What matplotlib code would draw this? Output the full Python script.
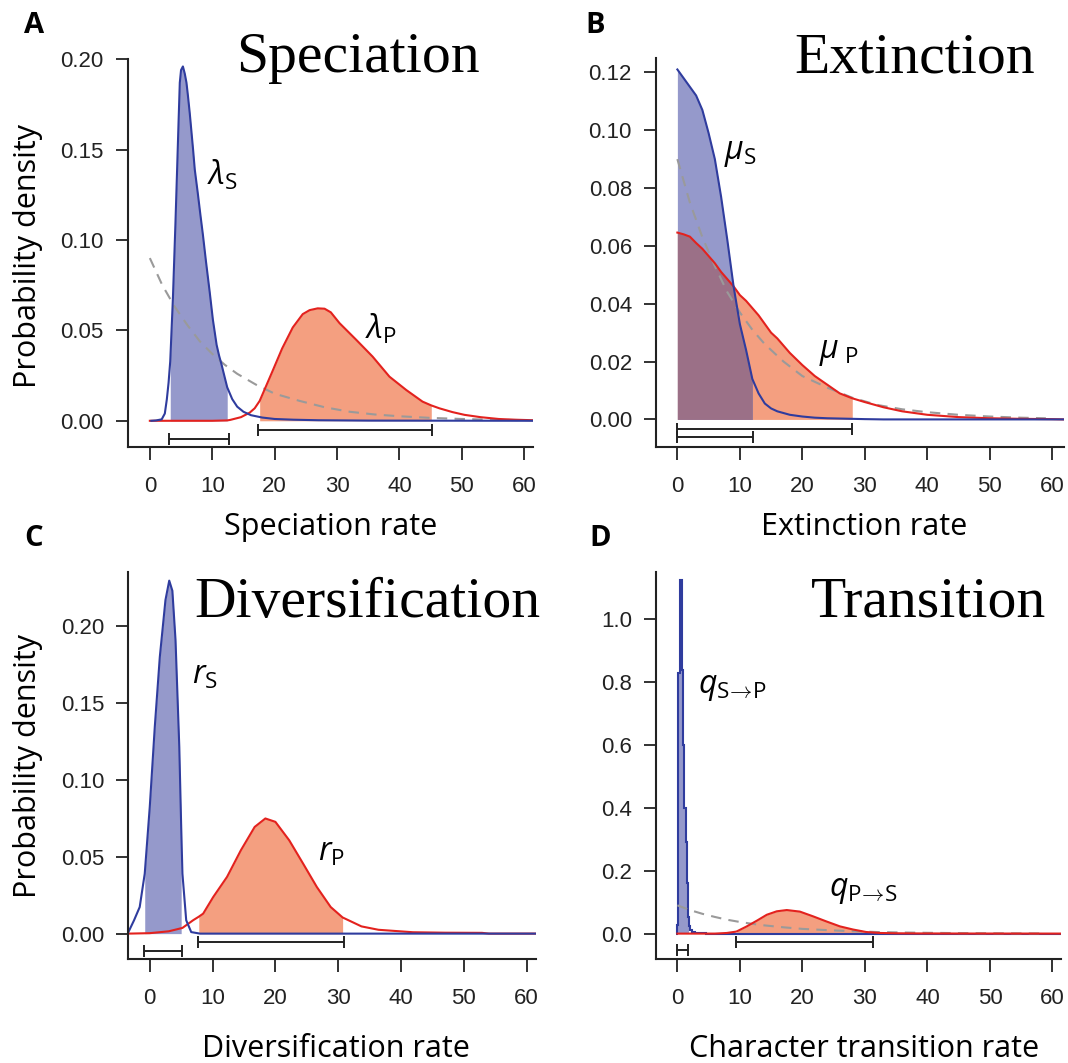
import numpy as np
import matplotlib
matplotlib.use('Agg')
import matplotlib.pyplot as plt

W, H = 1068, 1063

# ---- A: speciation ----
lam_s_x = [0.24, 1.0, 1.9, 2.4, 2.72, 3.0, 3.27, 3.7, 4.1, 4.37, 4.6, 4.8, 5.0, 5.3, 5.6,
           5.87, 6.1, 6.4, 6.93, 7.2, 7.68, 8.1, 8.5, 9.0, 9.6, 10.1, 10.7, 11.1, 11.5,
           12.0, 12.4, 13.2, 14.0, 15.0, 16.2, 18.0, 20.0, 23.0, 27.0, 35.0, 61.5]
lam_s = [0.0, 0.0002, 0.0008, 0.004, 0.0118, 0.021, 0.033, 0.068, 0.109, 0.139, 0.165,
         0.187, 0.194, 0.196, 0.192, 0.187, 0.180, 0.170, 0.150, 0.139, 0.126, 0.114,
         0.103, 0.088, 0.071, 0.056, 0.042, 0.036, 0.031, 0.024, 0.0185, 0.012, 0.0078,
         0.005, 0.0031, 0.0018, 0.001, 0.0006, 0.0003, 0.0001, 0.0]
lam_p_x = [0, 10, 12.4, 12.9, 14.6, 16.0, 16.8, 17.6, 19.6, 21.2, 22.9, 24.5, 25.6, 26.9,
           28.0, 29.0, 30.4, 33.1, 35.7, 38.4, 41.1, 43.7, 45.1, 46.4, 48.5, 50.4, 53.0,
           55.9, 58.5, 61.5]
lam_p = [0, 0, 0.0002, 0.0005, 0.002, 0.0045, 0.0069, 0.011, 0.027, 0.040, 0.0516, 0.059,
         0.0612, 0.0622, 0.062, 0.060, 0.054, 0.0447, 0.0355, 0.0244, 0.017, 0.0106,
         0.0085, 0.0069, 0.0048, 0.0033, 0.002, 0.001, 0.0006, 0.0003]
lam_hpd_s = (3.04, 12.64)
lam_hpd_p = (17.3, 45.2)
lam_fill_s = (3.27, 12.4)
lam_fill_p = (17.6, 45.1)

# ---- B: extinction (shared grid) ----
ext_x = [0, 1, 2, 3, 4, 5, 6, 7, 8, 9, 10, 11, 12, 13, 14, 15, 16, 18, 20, 22, 24, 26,
         28, 30, 33, 36, 40, 45, 50, 55, 60, 62]
mu_s = [0.121, 0.118, 0.115, 0.112, 0.107, 0.099, 0.090, 0.077, 0.062, 0.046, 0.033,
        0.024, 0.014, 0.009, 0.0055, 0.0038, 0.0028, 0.0016, 0.001, 0.0006, 0.0004,
        0.0003, 0.0002, 0.0001, 0, 0, 0, 0, 0, 0, 0, 0]
mu_p = [0.0646, 0.064, 0.0632, 0.061, 0.059, 0.0565, 0.054, 0.051, 0.0485, 0.046, 0.043,
        0.041, 0.0385, 0.036, 0.033, 0.030, 0.028, 0.023, 0.0188, 0.015, 0.012, 0.009,
        0.0073, 0.006, 0.0042, 0.0028, 0.0016, 0.0008, 0.0004, 0.0002, 0.0001, 0.0]
mu_hpd_s = (0, 12.06)
mu_hpd_p = (0, 28.0)

# ---- C: diversification ----
r_s_x = [-3.4, -2.5, -1.6, -0.8, 0, 0.8, 1.6, 2.5, 3.1, 3.6, 4.1, 4.7, 5.0, 5.2, 5.8, 6.6,
         8, 61.5]
r_s = [0.001, 0.0087, 0.0173, 0.039, 0.0824, 0.1345, 0.180, 0.217, 0.2296, 0.223, 0.191,
       0.1215, 0.07, 0.039, 0.0087, 0.001, 0, 0]
r_p_x = [-3.4, 0, 3.0, 5.2, 6.9, 7.8, 8.5, 10.1, 12.3, 14.5, 16.7, 18.4, 20.0, 22.2, 24.4,
         26.6, 28.8, 30.7, 33.7, 36.4, 41.9, 47, 52.9, 54, 61.5]
r_p = [0, 0.0003, 0.0015, 0.0037, 0.0087, 0.011, 0.013, 0.0238, 0.0369, 0.0542, 0.0694,
       0.0749, 0.0727, 0.0607, 0.0456, 0.0303, 0.0173, 0.0105, 0.0047, 0.0025, 0.0009,
       0.0006, 0.0005, 0, 0]
r_hpd_s = (-0.99, 5.2)
r_hpd_p = (7.67, 30.96)
r_fill_s = (-0.8, 5.0)
r_fill_p = (7.8, 30.7)

# ---- D: transition ----
q_sp_edges = [-0.25, -0.1, 0.05, 0.15, 0.42, 0.79, 0.95, 1.1, 1.32, 1.48, 1.64, 1.8, 2.0,
              2.3, 2.8, 3.5, 4.5, 61.5]
q_sp = [0.0, 0.027, 0.29, 0.83, 1.125, 0.84, 0.60, 0.40, 0.29, 0.16, 0.054, 0.025, 0.012,
        0.005, 0.002, 0.0005, 0.0]
q_ps_x = [0, 6, 7.9, 9.3, 9.5, 11.1, 12.7, 14.3, 15.9, 17.5, 19.6, 21.7, 23.8, 26.0, 28.1,
          30.2, 31.3, 32.4, 35, 38.8, 45, 61.5]
q_ps = [0, 0, 0.002, 0.006, 0.007, 0.023, 0.041, 0.06, 0.071, 0.075, 0.07, 0.055, 0.039,
        0.023, 0.013, 0.0051, 0.0035, 0.002, 0.001, 0.0005, 0.0002, 0]
q_hpd_s = (0, 1.71)
q_hpd_p = (9.37, 31.3)

# exponential prior (dashed)
prior_x = [0, 2, 4, 6, 8, 10, 12, 14, 17, 20, 24, 28, 32, 36, 40, 45, 50, 55, 59]
prior_y = [0.090, 0.075, 0.063, 0.053, 0.044, 0.037, 0.031, 0.026, 0.020, 0.015, 0.011,
           0.0075, 0.005, 0.0035, 0.0025, 0.0016, 0.001, 0.0006, 0.0004]

x_ticks = [0, 10, 20, 30, 40, 50, 60]

plt.rcParams['mathtext.fontset'] = 'custom'
plt.rcParams['mathtext.it'] = 'Open Sans:italic'
plt.rcParams['mathtext.rm'] = 'Open Sans'

BLUE = '#2f3c9e'
RED = '#e3221e'
BLUE_F = '#9599cb'
RED_F = '#f49f80'
MIX_F = '#9b7087'
GREY = '#9a9a9a'
INK = '#222222'
SANS = ['Open Sans', 'DejaVu Sans']


def px_axes(fig, l, r, t, b):
    return fig.add_axes([l / W, 1 - b / H, (r - l) / W, (b - t) / H])


def style(ax, xlim, ylim, yticks, fmt):
    ax.set_xlim(*xlim)
    ax.set_ylim(*ylim)
    for s in ['top', 'right']:
        ax.spines[s].set_visible(False)
    for s in ['left', 'bottom']:
        ax.spines[s].set_linewidth(1.5)
        ax.spines[s].set_color(INK)
    ax.set_xticks(x_ticks)
    ax.set_yticks(yticks)
    ax.set_yticklabels([fmt % v for v in yticks])
    ax.tick_params(direction='out', length=9, width=1.3, color=INK, labelcolor=INK,
                   labelsize=16)
    ax.tick_params(axis='x', pad=12)
    ax.tick_params(axis='y', pad=8.5)
    for lab in ax.get_xticklabels() + ax.get_yticklabels():
        lab.set_family('Liberation Sans')


def band(ax, x, y, rng, color):
    x = np.asarray(x, float)
    y = np.asarray(y, float)
    m = (x >= rng[0]) & (x <= rng[1])
    ax.fill_between(x[m], 0, y[m], color=color, lw=0)


def hpd_bar(ax, rng, y):
    lo, hi = rng
    ax.errorbar((lo + hi) / 2, y, xerr=(hi - lo) / 2, fmt='none', ecolor=INK,
                elinewidth=1.4, capsize=4, capthick=1.4)


def prior(ax):
    ax.plot(prior_x, prior_y, color=GREY, lw=1.5, ls=(0, (5, 3.5)))


def curve_label(ax, x, y, s):
    ax.text(x, y, s, fontsize=23, ha='left', va='center', color='black')


fig = plt.figure(figsize=(W / 100, H / 100), dpi=100)

# A
ax = px_axes(fig, 128, 533, 58.5, 447)
band(ax, lam_s_x, lam_s, lam_fill_s, BLUE_F)
band(ax, lam_p_x, lam_p, lam_fill_p, RED_F)
prior(ax)
ax.plot(lam_p_x, lam_p, color=RED, lw=1.5)
ax.plot(lam_s_x, lam_s, color=BLUE, lw=1.5)
hpd_bar(ax, lam_hpd_p, -0.0051)
hpd_bar(ax, lam_hpd_s, -0.0101)
style(ax, (-3.5, 61.4), (-0.0145, 0.2004), [0, 0.05, 0.10, 0.15, 0.20], '%.2f')
curve_label(ax, 9.1, 0.136, r'$\lambda_{\mathrm{S}}$')
curve_label(ax, 34.4, 0.0508, r'$\lambda_{\mathrm{P}}$')

# B
ax = px_axes(fig, 656.2, 1064, 57.9, 446.6)
band(ax, ext_x, mu_p, mu_hpd_p, RED_F)
band(ax, ext_x, mu_s, mu_hpd_s, BLUE_F)
band(ax, ext_x, np.minimum(mu_s, mu_p), mu_hpd_s, MIX_F)
prior(ax)
ax.plot(ext_x, mu_p, color=RED, lw=1.5)
ax.plot(ext_x, mu_s, color=BLUE, lw=1.5)
hpd_bar(ax, mu_hpd_p, -0.0032)
hpd_bar(ax, mu_hpd_s, -0.0062)
style(ax, (-3.39, 61.9), (-0.0094, 0.125), [0, 0.02, 0.04, 0.06, 0.08, 0.10, 0.12], '%.2f')
curve_label(ax, 7.4, 0.0918, r'$\mu_{\mathrm{S}}$')
curve_label(ax, 22.7, 0.0233, r'$\mu_{\ \mathrm{P}}$')

# C
ax = px_axes(fig, 128.4, 535.5, 571.7, 959.3)
band(ax, r_s_x, r_s, r_fill_s, BLUE_F)
band(ax, r_p_x, r_p, r_fill_p, RED_F)
ax.plot(r_p_x, r_p, color=RED, lw=1.5)
ax.plot(r_s_x, r_s, color=BLUE, lw=1.5)
hpd_bar(ax, r_hpd_p, -0.0054)
hpd_bar(ax, r_hpd_s, -0.0113)
style(ax, (-3.4, 61.4), (-0.0167, 0.2354), [0, 0.05, 0.10, 0.15, 0.20], '%.2f')
curve_label(ax, 6.8, 0.168, r'$r_{\mathrm{S}}$')
curve_label(ax, 26.8, 0.0526, r'$r_{\mathrm{P}}$')

# D
ax = px_axes(fig, 656.2, 1061.2, 571.7, 959.3)
edges = np.asarray(q_sp_edges)
heights = np.asarray(q_sp)
sel = np.where((edges >= -0.1) & (edges <= 1.8))[0]
ax.stairs(heights[sel[0]:sel[-1]], edges[sel[0]:sel[-1] + 1], fill=True, color=BLUE_F, lw=0)
band(ax, q_ps_x, q_ps, q_hpd_p, RED_F)
prior(ax)
ax.plot(q_ps_x, q_ps, color=RED, lw=1.5)
ax.stairs(heights, edges, color=BLUE, lw=1.5)
hpd_bar(ax, q_hpd_p, -0.0264)
hpd_bar(ax, q_hpd_s, -0.053)
style(ax, (-3.39, 61.4), (-0.0818, 1.152), [0, 0.2, 0.4, 0.6, 0.8, 1.0], '%.1f')
curve_label(ax, 3.3, 0.783, r'$q_{\mathrm{S}\!\rightarrow\!\mathrm{P}}$')
curve_label(ax, 24.3, 0.136, r'$q_{\mathrm{P}\!\rightarrow\!\mathrm{S}}$')

# titles, panel letters, axis labels
titles = [('Speciation', 236, 72.3), ('Extinction', 794, 72.3),
          ('Diversification', 194.6, 617.4), ('Transition', 811, 616.7)]
for t, x, y in titles:
    fig.text(x / W, 1 - y / H, t, family='Liberation Serif', fontsize=41.5,
             ha='left', va='baseline')

letters = [('A', 24, 32.7), ('B', 585.5, 32.7), ('C', 24, 546), ('D', 589, 546)]
for t, x, y in letters:
    fig.text(x / W, 1 - y / H, t, family=SANS, fontweight='bold', fontsize=21,
             ha='left', va='baseline')

xlabels = [('Speciation rate', 330.6, 527), ('Extinction rate', 864, 527),
           ('Diversification rate', 336, 1049), ('Character transition rate', 864, 1049)]
for t, x, y in xlabels:
    fig.text(x / W, 1 - y / H, t, family=SANS, fontsize=22, ha='center', va='center')

for y in [256.5, 766]:
    fig.text(28.4 / W, 1 - y / H, 'Probability density', family=SANS, fontsize=22,
             rotation=90, ha='center', va='center')

fig.savefig('out.png', dpi=100)
